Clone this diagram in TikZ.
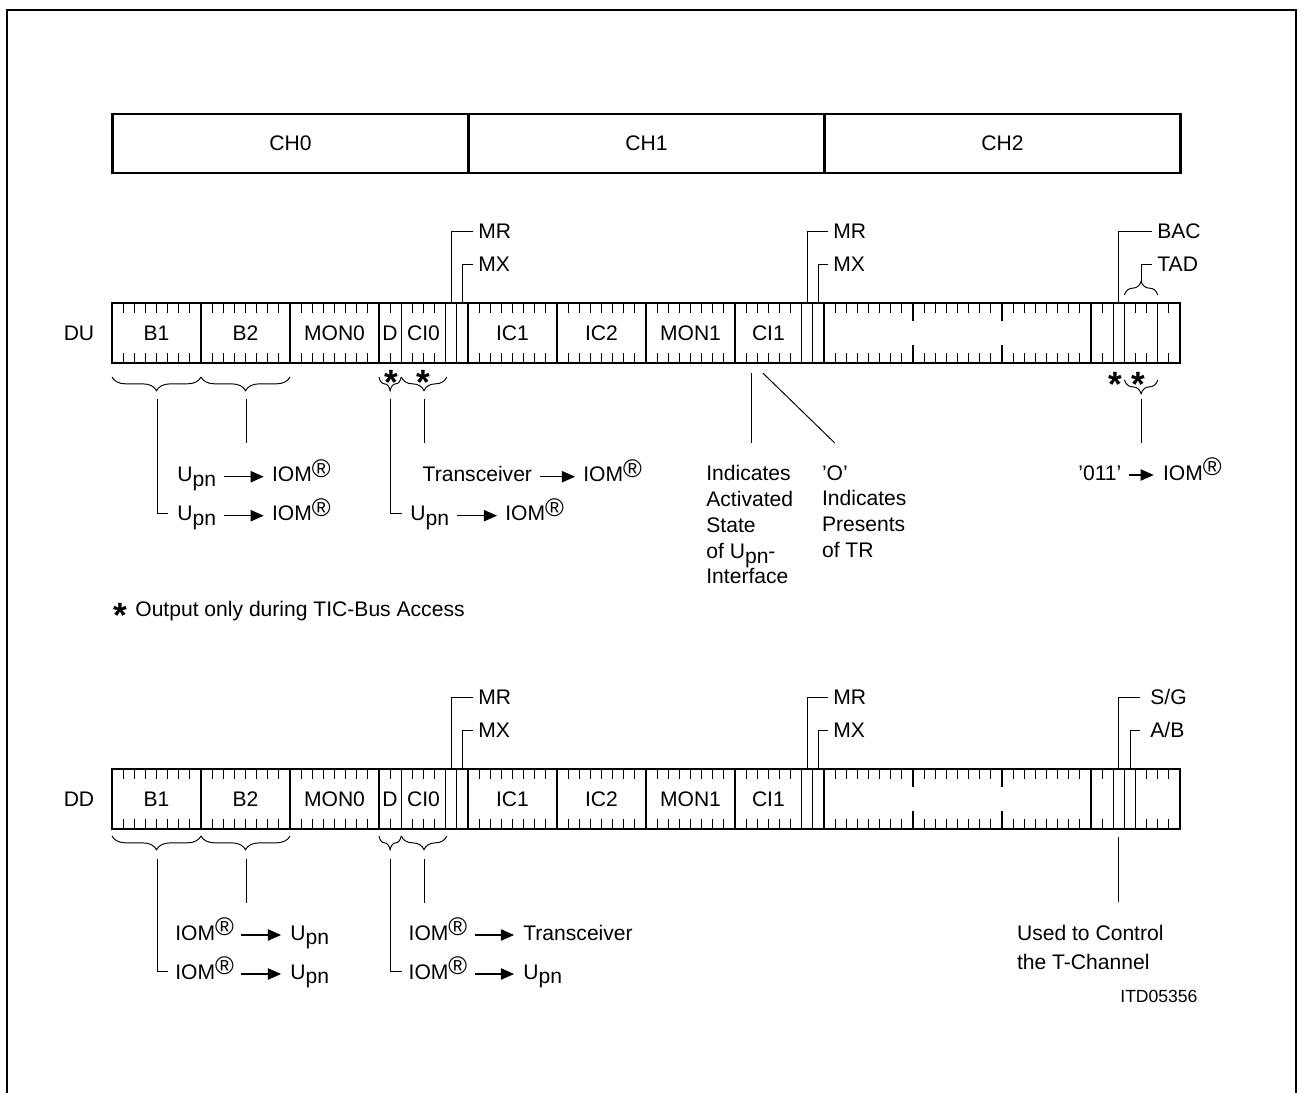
\documentclass[tikz,border=0pt]{standalone}
\usepackage{fontspec}
\setmainfont{Liberation Sans}
\usetikzlibrary{calc,arrows.meta,decorations.pathreplacing}

\newcommand{\upn}{U\raisebox{-2.8pt}{pn}}
\newcommand{\iom}{IOM\raisebox{2.6pt}{\fontsize{14.5}{14.5}\selectfont\textregistered}}
\newcommand{\slotframe}[2]{%
  \draw[frm] (112,0) rectangle (1180,60);
  \foreach \k in {1,2,3,4,5,6,7,8,11} \draw[frm] ({112+89*\k},0) -- ++(0,60);
  \foreach \k in {9,10} \draw[frm] ({112+89*\k},0) -- ++(0,18) ({112+89*\k},42) -- ++(0,18);
  \foreach \b in {0,...,11} \foreach \j in {1,...,7}
    \draw[tick] ({112+89*\b+11.125*\j},0) -- ++(0,10) ({112+89*\b+11.125*\j},50) -- ++(0,10);
  \foreach \i in {26,30,31,62,63,90,91,#2} \draw[tick] ({112+11.125*\i},0) -- ++(0,60);
  \foreach \lab/\xx/\nm in {B1/156.5/bA,B2/245.5/bB,MON0/334.5/monA,D/390.1/d,CI0/423.5/ciA,IC1/512.5/icA,IC2/601.5/icB,MON1/690.5/monB,CI1/768.4/ciB}
    \node[fld] (\nm#1) at (\xx,30) {\lab};
}

\begin{document}
\begin{tikzpicture}[x=0.02cm, y=-0.02cm, font=\fontsize{12}{14.7}\selectfont,
  frm/.style={line width=1.5pt},
  tick/.style={line width=0.55pt},
  lead/.style={line width=0.55pt},
  fld/.style={inner sep=0pt},
  txt/.style={inner sep=0pt, anchor=base west},
  lbl/.style={inner sep=0pt, anchor=west},
  brc/.style={line width=0.55pt, decorate, decoration={brace, amplitude=7.8pt}},
  arr/.style={line width=0.6pt, -{Triangle[length=7.5pt, width=6.5pt]}},
  star/.style={inner sep=0pt, anchor=base, font=\fontsize{20}{20}\selectfont\bfseries}]

\useasboundingbox (0,0) rectangle (1298,1092);
\draw[line width=1.5pt] (7,1110) -- (7,10) -- (1296,10) -- (1296,1110);

\draw[line width=1.7pt] (112.5,114) rectangle (1180.5,173) (468.5,114) -- (468.5,173) (824.5,114) -- (824.5,173);
\node[fld] (ch0) at (290.5,143.5) {CH0};
\node[fld] (ch1) at (646.5,143.5) {CH1};
\node[fld] (ch2) at (1002.5,143.5) {CH2};

\node[fld] (du) at (79,333) {DU};
\node[fld] (dd) at (79,799) {DD};
\begin{scope}[shift={(0,303)}]
  \slotframe{U}{94}
\end{scope}
\begin{scope}[shift={(0,769)}]
  \slotframe{D}{92}
\end{scope}

\node[lbl] (mr0) at (478,231) {MR};
\node[lbl] (mx0) at (478,264) {MX};
\node[lbl] (mr1) at (833,231) {MR};
\node[lbl] (mx1) at (833,264) {MX};
\node[lbl] (bac) at (1157,231) {BAC};
\node[lbl] (tad) at (1157,264) {TAD};
\coordinate (pmr0) at (451.6,303);
\coordinate (pmx0) at (462.7,303);
\coordinate (pmr1) at (807.3,303);
\coordinate (pmx1) at (818.4,303);
\coordinate (pbac) at (1118.8,303);
\coordinate (ptad) at (1141.1,282);
\draw[lead] (pmr0) |- ($(mr0.west)+(-5,0)$);
\draw[lead] (pmx0) |- ($(mx0.west)+(-5,0)$);
\draw[lead] (pmr1) |- ($(mr1.west)+(-5,0)$);
\draw[lead] (pmx1) |- ($(mx1.west)+(-5,0)$);
\draw[lead] (pbac) |- ($(bac.west)+(-5,0)$);
\draw[lead] (ptad) |- ($(tad.west)+(-5,0)$);
\draw[brc] (1124.4,295) -- (1157.75,295);

\node[lbl] (mr2) at (478,697) {MR};
\node[lbl] (mx2) at (478,730) {MX};
\node[lbl] (mr3) at (833,697) {MR};
\node[lbl] (mx3) at (833,730) {MX};
\node[lbl] (sg) at (1150,697) {S/G};
\node[lbl] (ab) at (1150,730) {A/B};
\coordinate (pmr2) at (451.6,769);
\coordinate (pmx2) at (462.7,769);
\coordinate (pmr3) at (807.3,769);
\coordinate (pmx3) at (818.4,769);
\coordinate (psg) at (1118.8,769);
\coordinate (pab) at (1130,769);
\draw[lead] (pmr2) |- ($(mr2.west)+(-5,0)$);
\draw[lead] (pmx2) |- ($(mx2.west)+(-5,0)$);
\draw[lead] (pmr3) |- ($(mr3.west)+(-5,0)$);
\draw[lead] (pmx3) |- ($(mx3.west)+(-5,0)$);
\draw[lead] (psg) |- ($(sg.west)+(-10,0)$);
\draw[lead] (pab) |- ($(ab.west)+(-10,0)$);

\draw[brc] (201,377) -- (112,377);
\draw[brc] (290,377) -- (201,377);
\draw[brc] (401.25,377) -- (379,377);
\draw[brc] (446.75,377) -- (401.25,377);
\draw[brc] (1157.75,380) -- (1124.4,380);
\node[star] (stA) at (391,394.4) {*};
\node[star] (stB) at (423,394.4) {*};
\node[star] (stC) at (1115,396.4) {*};
\node[star] (stD) at (1138,396.4) {*};

\node[txt] (upnA) at (177,481.7) {\upn};
\node[txt] (iomA) at (271.7,481.7) {\iom};
\node[txt] (upnB) at (177,520.7) {\upn};
\node[txt] (iomB) at (271.7,520.7) {\iom};
\node[txt] (trcA) at (422.3,481.7) {Transceiver};
\node[txt] (iomC) at (583,481.7) {\iom};
\node[txt] (upnC) at (410,520.7) {\upn};
\node[txt] (iomD) at (505,520.7) {\iom};
\node[txt] (v011) at (1078,480) {'011'};
\node[txt] (iomE) at (1162.7,480) {\iom};
\draw[arr] ($(upnA.base east)+(8,-5)$) -- ($(iomA.base west)+(-8,-5)$);
\draw[arr] ($(upnB.base east)+(8,-5)$) -- ($(iomB.base west)+(-8,-5)$);
\draw[arr] ($(trcA.base east)+(8,-5)$) -- ($(iomC.base west)+(-8,-5)$);
\draw[arr] ($(upnC.base east)+(8,-5)$) -- ($(iomD.base west)+(-8,-5)$);
\draw[arr] ($(v011.base east)+(7,-5)$) -- ($(iomE.base west)+(-9,-5)$);
\node[txt, anchor=north west, align=left] (actv) at (706,465) {Indicates\\Activated\\State\\of \upn-\\Interface};
\node[txt, anchor=north west, align=left] (pres) at (821.7,465) {'O'\\Indicates\\Presents\\of TR};

\coordinate (qB1) at (157,399);
\coordinate (qB2) at (246,399);
\coordinate (qD) at (390,399);
\coordinate (qCI0) at (424,399);
\coordinate (q011) at (1141,399);
\coordinate (qci1a) at (751.7,373);
\coordinate (qci1b) at (762.8,373);
\draw[lead] (qB1) |- ($(upnB.base west)+(-9,-7.5)$);
\draw[lead] (qB2) -- ++(0,44);
\draw[lead] (qD) |- ($(upnC.base west)+(-8,-7.5)$);
\draw[lead] (qCI0) -- ++(0,44);
\draw[lead] (q011) -- ++(0,44);
\draw[lead] (qci1a) -- ++(0,70);
\draw[lead] (qci1b) -- ++(72,70);

\node[star] (fst) at (120,627.4) {*};
\node[txt] (fnote) at (135,616.7) {Output only during TIC-Bus Access};

\draw[brc] (201,836) -- (112,836);
\draw[brc] (290,836) -- (201,836);
\draw[brc] (401.25,836) -- (379,836);
\draw[brc] (446.75,836) -- (401.25,836);
\node[txt] (iomF) at (175,940) {\iom};
\node[txt] (upnF) at (290,940) {\upn};
\node[txt] (iomG) at (175,979) {\iom};
\node[txt] (upnG) at (290,979) {\upn};
\node[txt] (iomH) at (408.3,940) {\iom};
\node[txt] (trcB) at (523,940) {Transceiver};
\node[txt] (iomI) at (408.3,979) {\iom};
\node[txt] (upnI) at (523,979) {\upn};
\draw[arr] ($(iomF.base east)+(7,-5)$) -- ($(upnF.base west)+(-9,-5)$);
\draw[arr] ($(iomG.base east)+(7,-5)$) -- ($(upnG.base west)+(-9,-5)$);
\draw[arr] ($(iomH.base east)+(7,-5)$) -- ($(trcB.base west)+(-9,-5)$);
\draw[arr] ($(iomI.base east)+(7,-5)$) -- ($(upnI.base west)+(-9,-5)$);
\coordinate (rB1) at (157,859);
\coordinate (rB2) at (246,859);
\coordinate (rD) at (390,859);
\coordinate (rCI0) at (424,859);
\coordinate (rsg) at (1118.8,836.7);
\draw[lead] (rB1) |- ($(iomG.base west)+(-7,-7.5)$);
\draw[lead] (rB2) -- ++(0,44);
\draw[lead] (rD) |- ($(iomI.base west)+(-6.6,-7.5)$);
\draw[lead] (rCI0) -- ++(0,44);
\draw[lead] (rsg) -- ++(0,65);
\node[txt, anchor=north west, align=left, font=\fontsize{12}{16.6}\selectfont] (tch) at (1016.7,924.8) {Used to Control\\the T-Channel};
\node[txt, font=\fontsize{10}{12}\selectfont] (itd) at (1120,1002.7) {ITD05356};
\end{tikzpicture}
\end{document}
